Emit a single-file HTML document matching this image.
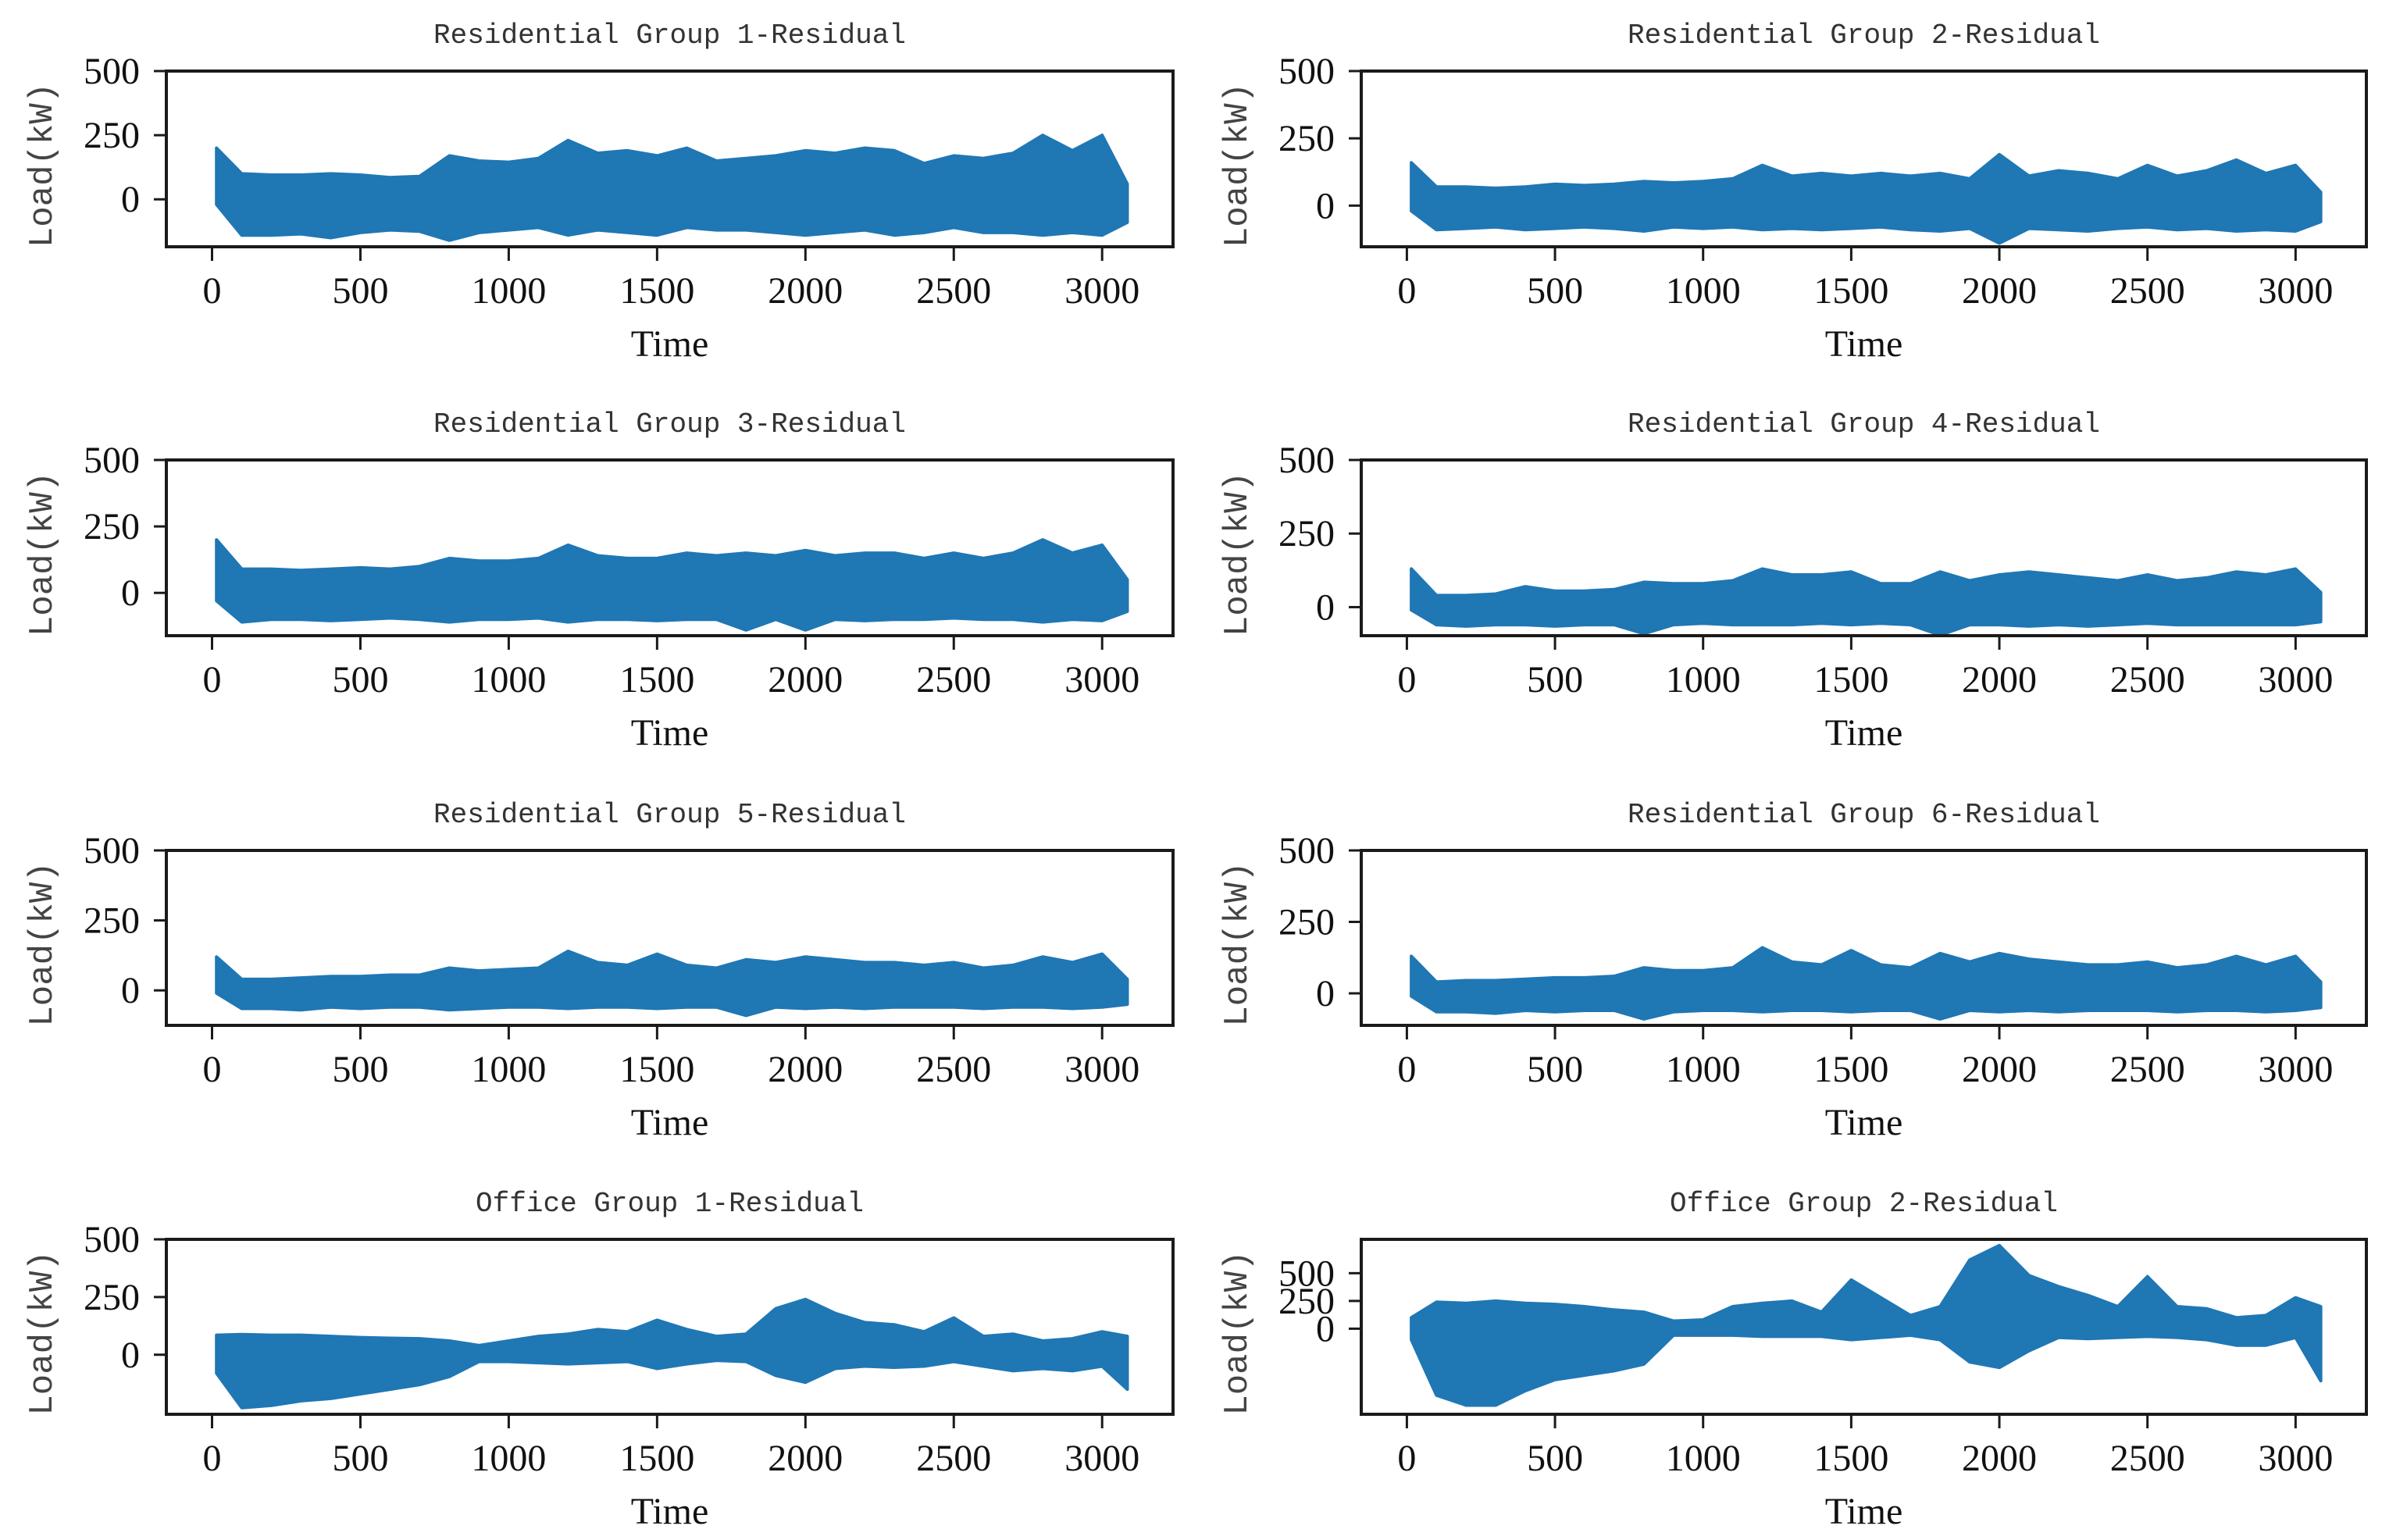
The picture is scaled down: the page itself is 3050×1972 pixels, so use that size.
<!DOCTYPE html>
<html><head><meta charset="utf-8">
<style>
html,body{margin:0;padding:0;background:#fff;}
svg{display:block;}
.tt{font-family:"Liberation Mono",monospace;font-size:36px;fill:#333;}
.tk{font-family:"Liberation Serif",serif;font-size:48px;fill:#111;}
.yl{font-family:"Liberation Mono",monospace;font-size:44px;fill:#444;}
</style></head>
<body>
<svg id="fig" width="3050" height="1972" viewBox="0 0 3050 1972" xmlns="http://www.w3.org/2000/svg"></svg>
<script>
const times = [15,100,200,300,400,500,600,700,800,900,1000,1100,1200,1300,1400,1500,1600,1700,1800,1900,2000,2100,2200,2300,2400,2500,2600,2700,2800,2900,3000,3085];
const titles = ["Residential Group 1-Residual","Residential Group 2-Residual","Residential Group 3-Residual","Residential Group 4-Residual","Residential Group 5-Residual","Residential Group 6-Residual","Office Group 1-Residual","Office Group 2-Residual"];
const xTicks = [0,500,1000,1500,2000,2500,3000];
const yTicksStd = [0,250,500];
const yMins = [-185,-153,-161,-97,-125,-112,-258,-771];
const yMaxs = [500,500,500,500,500,500,500,805];
const up1 = [200,100,95,95,100,95,85,90,170,150,145,160,230,180,190,170,200,150,160,170,190,180,200,190,140,170,160,180,250,190,250,60];
const lo1 = [-20,-140,-140,-135,-150,-130,-120,-125,-160,-130,-120,-110,-140,-120,-130,-140,-110,-120,-120,-130,-140,-130,-120,-140,-130,-110,-130,-130,-140,-130,-140,-90];
const up2 = [160,70,70,65,70,80,75,80,90,85,90,100,150,110,120,110,120,110,120,100,190,110,130,120,100,150,110,130,170,120,150,50];
const lo2 = [-20,-90,-85,-80,-90,-85,-80,-85,-95,-80,-85,-80,-90,-85,-90,-85,-80,-90,-95,-85,-140,-85,-90,-95,-85,-80,-90,-85,-95,-90,-95,-60];
const up3 = [200,90,90,85,90,95,90,100,130,120,120,130,180,140,130,130,150,140,150,140,160,140,150,150,130,150,130,150,200,150,180,50];
const lo3 = [-30,-110,-100,-100,-105,-100,-95,-100,-110,-100,-100,-95,-110,-100,-100,-105,-100,-100,-140,-100,-140,-100,-105,-100,-100,-95,-100,-100,-110,-100,-105,-70];
const up4 = [130,40,40,45,70,55,55,60,85,80,80,90,130,110,110,120,80,80,120,90,110,120,110,100,90,110,90,100,120,110,130,50];
const lo4 = [-10,-60,-65,-60,-60,-65,-60,-60,-90,-60,-55,-60,-60,-60,-55,-60,-55,-60,-95,-60,-60,-65,-60,-65,-60,-55,-60,-60,-60,-60,-60,-50];
const up5 = [120,40,40,45,50,50,55,55,80,70,75,80,140,100,90,130,90,80,110,100,120,110,100,100,90,100,80,90,120,100,130,40];
const lo5 = [-10,-65,-65,-70,-60,-65,-60,-60,-70,-65,-60,-60,-65,-60,-60,-65,-60,-60,-90,-60,-65,-60,-65,-60,-60,-60,-65,-60,-60,-65,-60,-50];
const up6 = [130,40,45,45,50,55,55,60,90,80,80,90,160,110,100,150,100,90,140,110,140,120,110,100,100,110,90,100,130,100,130,40];
const lo6 = [-10,-65,-65,-70,-60,-65,-60,-60,-90,-65,-60,-60,-65,-60,-60,-65,-60,-60,-90,-60,-65,-60,-65,-60,-60,-60,-65,-60,-60,-65,-60,-50];
const up7 = [85,88,85,85,80,75,72,70,60,40,60,80,90,110,100,150,110,80,90,200,240,180,140,130,100,160,80,90,60,70,100,80];
const lo7 = [-80,-230,-220,-200,-190,-170,-150,-130,-95,-30,-30,-35,-40,-35,-30,-60,-40,-25,-30,-90,-120,-60,-50,-55,-50,-30,-50,-70,-60,-70,-50,-150];
const up8 = [100,240,230,250,230,220,200,170,150,70,80,200,230,250,150,440,280,120,200,620,750,480,380,300,200,470,200,180,100,120,280,200];
const lo8 = [-100,-600,-690,-690,-560,-460,-420,-380,-320,-60,-60,-60,-70,-70,-70,-100,-80,-60,-100,-300,-350,-200,-80,-90,-80,-70,-80,-100,-150,-150,-80,-470];
const uppers = [up1,up2,up3,up4,up5,up6,up7,up8];
const lowers = [lo1,lo2,lo3,lo4,lo5,lo6,lo7,lo8];

const NS = "http://www.w3.org/2000/svg";
const svg = document.getElementById("fig");
const colLeft = [213,1743], colW = [1289,1287];
const rowTop = [91,589,1089,1587], rowBot = [316,814,1313,1811];
const XMIN = -154, XMAX = 3239;
function mk(tag, attrs, parent){const e=document.createElementNS(NS,tag);for(const k in attrs)e.setAttribute(k,attrs[k]);(parent||svg).appendChild(e);return e;}

for(let p=0;p<8;p++){
  const c=p%2, r=Math.floor(p/2);
  const L=colLeft[c], W=colW[c], T=rowTop[r], B=rowBot[r];
  const xs=v=>L+(v-XMIN)/(XMAX-XMIN)*W;
  const ys=v=>B-(v-yMins[p])/(yMaxs[p]-yMins[p])*(B-T);
  const g=mk("g",{});
  
  
  let pts=[];
  for(let i=0;i<times.length;i++)pts.push(xs(times[i]).toFixed(1)+","+ys(uppers[p][i]).toFixed(1));
  for(let i=times.length-1;i>=0;i--)pts.push(xs(times[i]).toFixed(1)+","+ys(lowers[p][i]).toFixed(1));
  const poly=mk("polygon",{points:pts.join(" "),fill:"#1f77b4",stroke:"#1f77b4","stroke-width":4,"stroke-linejoin":"round"},g);
  
  
  const fr=mk("rect",{x:L,y:T,width:W,height:B-T,fill:"none",stroke:"#1a1a1a","stroke-width":4},g);
  
  
  for(const t of xTicks){
    const x=xs(t);
    mk("line",{x1:x,y1:B,x2:x,y2:B+18,stroke:"#1a1a1a","stroke-width":3},g);
    const tx=mk("text",{x:x,y:B+72,"text-anchor":"middle",class:"tk"},g);
    tx.textContent=t;
    
    
  }
  for(const t of yTicksStd){
    const y=ys(t);
    mk("line",{x1:L-16,y1:y,x2:L,y2:y,stroke:"#1a1a1a","stroke-width":3},g);
    const ty=mk("text",{x:L-34,y:y+16,"text-anchor":"end",class:"tk"},g);
    ty.textContent=t;
    
    
  }
  const ttl=mk("text",{x:L+W/2,y:T-36,"text-anchor":"middle",class:"tt"},g);
  ttl.textContent=titles[p];
  
  
  const xl=mk("text",{x:L+W/2,y:B+140,"text-anchor":"middle",class:"tk"},g);
  xl.textContent="Time";
  
  
  const cy=(T+B)/2+8, cx=L-147;
  const yl=mk("text",{x:cx,y:cy,"text-anchor":"middle",class:"yl",transform:"rotate(-90 "+cx+" "+cy+")"},g);
  yl.textContent="Load(kW)";
  
  
}
</script>
</body></html>
